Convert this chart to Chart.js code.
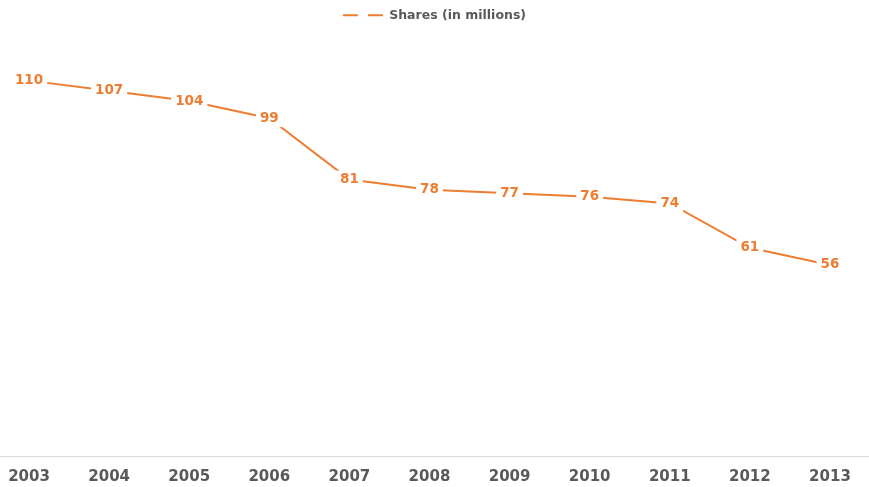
<!DOCTYPE html>
<html lang="en">
<head>
<meta charset="UTF-8">
<title>Shares (in millions)</title>
<script src="https://cdn.jsdelivr.net/npm/chart.js"></script>
<style>
html, body { margin: 0; padding: 0; background: #fff; }
#wrap { width: 869px; height: 487px; }
</style>
</head>
<body>
<div id="wrap"><canvas id="sharesChart" width="869" height="487"></canvas></div>

<script>
const years = ["2003", "2004", "2005", "2006", "2007", "2008", "2009", "2010", "2011", "2012", "2013"];
const shares = [110, 107, 104, 99, 81, 78, 77, 76, 74, 61, 56];

const orange = '#ED7D31';
const gray = '#595959';
const font = "'DejaVu Sans', Verdana, sans-serif";

// value labels sit on the line with a white box behind them
const valueLabels = {
  id: 'valueLabels',
  afterDatasetsDraw(chart) {
    const ctx = chart.ctx;
    const meta = chart.getDatasetMeta(0);
    ctx.save();
    ctx.font = 'bold 13.5px ' + font;
    ctx.textAlign = 'center';
    ctx.textBaseline = 'middle';
    meta.data.forEach((pt, i) => {
      const txt = String(shares[i]);
      const w = ctx.measureText(txt).width + 8;
      ctx.fillStyle = '#fff';
      ctx.fillRect(pt.x - w / 2, pt.y - 9, w, 18);
      ctx.fillStyle = orange;
      ctx.fillText(txt, pt.x, pt.y);
    });
    ctx.restore();
  }
};

// extra room between legend and plot
const legendGap = {
  id: 'legendGap',
  beforeInit(chart) {
    const fit = chart.legend.fit;
    chart.legend.fit = function () {
      fit.bind(chart.legend)();
      this.height += 15;
    };
  }
};

const ctx = document.getElementById('sharesChart').getContext('2d');
new Chart(ctx, {
  type: 'line',
  data: {
    datasets: [{
      label: 'Shares (in millions)',
      data: shares.map((v, i) => ({ x: i, y: v })),
      borderColor: orange,
      backgroundColor: orange,
      borderWidth: 2,
      pointRadius: 0,
      tension: 0
    }]
  },
  options: {
    responsive: false,
    animation: false,
    layout: { padding: { top: 3, bottom: -11, left: 0, right: 0 } },
    plugins: {
      tooltip: { enabled: false },
      legend: {
        position: 'top',
        labels: {
          color: gray,
          font: { family: font, size: 12.5, weight: 'bold' },
          usePointStyle: true,
          pointStyleWidth: 40,
          padding: 6,
          generateLabels: chart => [{
            text: 'Shares (in millions)',
            pointStyle: 'line',
            strokeStyle: orange,
            fillStyle: orange,
            lineWidth: 2,
            lineDash: [15, 10],
            fontColor: gray,
            datasetIndex: 0
          }]
        }
      }
    },
    scales: {
      x: {
        type: 'linear',
        min: -0.3625,
        max: 10.4875,
        afterFit: s => { s.paddingLeft = 0; s.paddingRight = 0; },
        grid: { display: true, drawOnChartArea: false, drawTicks: false },
        border: { display: true, color: '#d9d9d9', width: 1 },
        ticks: {
          stepSize: 1,
          includeBounds: false,
          autoSkip: false,
          maxRotation: 0,
          padding: 12,
          color: gray,
          font: { family: font, size: 15, weight: 'bold' },
          callback: v => years[v]
        }
      },
      y: {
        display: false,
        min: 0,
        max: 120
      }
    }
  },
  plugins: [valueLabels, legendGap]
});
</script>
</body>
</html>
